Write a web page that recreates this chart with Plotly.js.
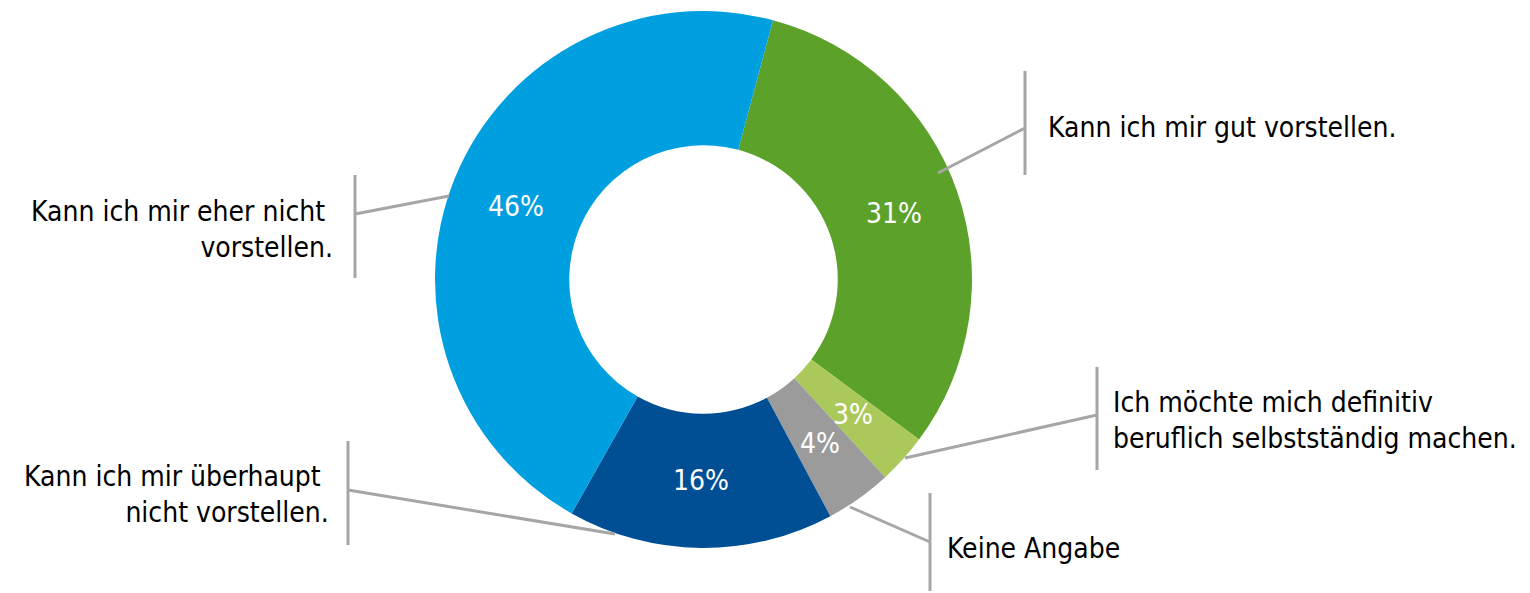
<!DOCTYPE html>
<html>
<head>
<meta charset="utf-8">
<script src="https://cdn.plot.ly/plotly-3.0.1.min.js"></script>
<style>html,body{margin:0;padding:0;background:#fff;}#chart{width:1530px;height:593px;}</style>
</head>
<body>
<div id="chart"></div>
<script>
// ---- data ----
const categories = [
  "Kann ich mir gut vorstellen.",
  "Ich möchte mich definitiv<br>beruflich selbstständig machen.",
  "Keine Angabe",
  "Kann ich mir überhaupt <br>nicht vorstellen.",
  "Kann ich mir eher nicht <br>vorstellen."
];
const values = [31, 3, 4, 16, 46];
const colors = ["#5ca22a", "#abc95b", "#9b9b9b", "#004f95", "#009fe0"];

// ---- layout constants (pixels) ----
const W = 1530, H = 593;
const CX = 703.5, CY = 279.5, R = 268.5, HOLE = 0.5;
const ROT = 15;
const FONT = "'DejaVu Sans Condensed', 'DejaVu Sans', sans-serif";
const FS = 28;
const px = (x) => x / W;
const py = (y) => 1 - y / H;

// label-angle override for slices whose percent is not centred (index -> deg)
const pctAngleOverride = {4: 291.4};

// external label geometry: start of leader, elbow on bar, bar y-range, text pos
const callouts = [
  {start:[938,173], elbow:[1025,128], bar:[71,175], text:[1046,127], xanchor:"left", align:"left"},
  {start:[905,458], elbow:[1097,415], bar:[367,470], text:[1111,420], xanchor:"left", align:"left"},
  {start:[850,507], elbow:[930,542], bar:[493,591], text:[945,548], xanchor:"left", align:"left"},
  {start:[615,534], elbow:[348,490], bar:[441,545], text:[331,494], xanchor:"right", align:"right"},
  {start:[449,196], elbow:[355,214], bar:[175,278], text:[335,229], xanchor:"right", align:"right"}
];

const total = values.reduce((a,b)=>a+b,0);
const annotations = [];
const shapes = [];
let acc = 0;
values.forEach((v,i)=>{
  let mid = ROT + (acc + v/2) / total * 360;
  acc += v;
  if (pctAngleOverride[i] !== undefined) mid = pctAngleOverride[i];
  const rr = R * (1 + HOLE) / 2;
  const a = mid * Math.PI / 180;
  const x = CX + rr * Math.sin(a), y = CY - rr * Math.cos(a);
  annotations.push({x:px(x), y:py(y), xref:"paper", yref:"paper", text: v + "%",
    showarrow:false, xanchor:"center", yanchor:"middle",
    font:{family:FONT, size:FS, color:"#ffffff"}});
});
callouts.forEach((c,i)=>{
  shapes.push({type:"line", xref:"paper", yref:"paper",
    x0:px(c.start[0]), y0:py(c.start[1]), x1:px(c.elbow[0]), y1:py(c.elbow[1]),
    line:{color:"#a6a6a6", width:3}});
  shapes.push({type:"line", xref:"paper", yref:"paper",
    x0:px(c.elbow[0]), y0:py(c.bar[0]), x1:px(c.elbow[0]), y1:py(c.bar[1]),
    line:{color:"#a6a6a6", width:3}});
  annotations.push({x:px(c.text[0]), y:py(c.text[1]), xref:"paper", yref:"paper",
    text: categories[i], showarrow:false, xanchor:c.xanchor, yanchor:"middle", align:c.align,
    font:{family:FONT, size:FS, color:"#000000"}});
});

const trace = {
  type:"pie",
  labels: categories,
  values: values,
  marker:{colors: colors, line:{width:0}},
  hole: HOLE,
  sort:false,
  direction:"clockwise",
  rotation: ROT,
  textinfo:"none",
  hoverinfo:"label+percent",
  domain:{x:[px(CX-R), px(CX+R)], y:[py(CY+R), py(CY-R)]}
};

Plotly.newPlot("chart", [trace], {
  width:W, height:H,
  margin:{l:0,r:0,t:0,b:0},
  showlegend:false,
  paper_bgcolor:"#ffffff",
  annotations: annotations,
  shapes: shapes
}, {displayModeBar:false, staticPlot:true});
</script>
</body>
</html>
